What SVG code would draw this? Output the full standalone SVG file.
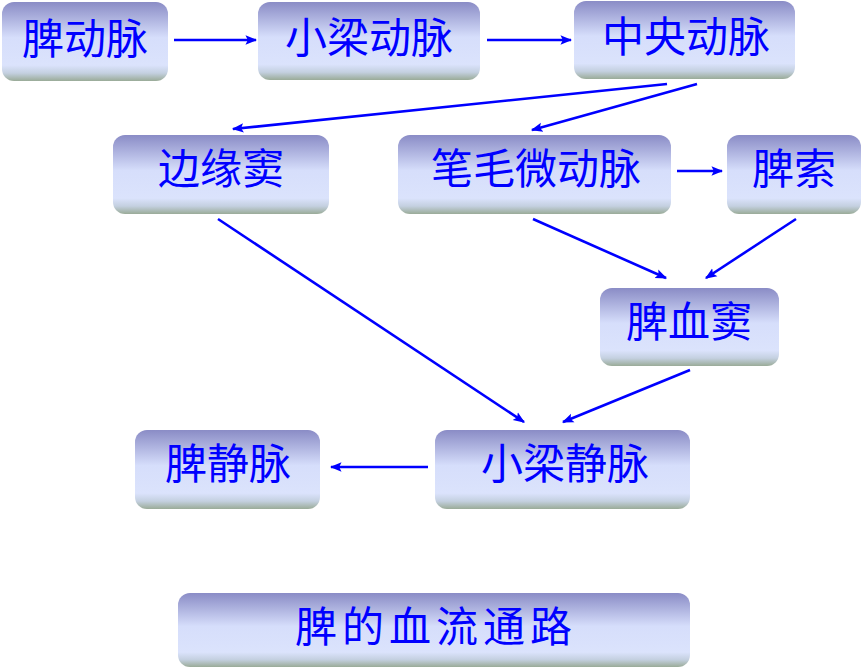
<svg xmlns="http://www.w3.org/2000/svg" width="863" height="668" viewBox="0 0 863 668">
<defs>
<linearGradient id="g" x1="0" y1="0" x2="0" y2="1">
<stop offset="0" stop-color="#8a8cc6"/>
<stop offset="0.45" stop-color="#d6defb"/>
<stop offset="0.8" stop-color="#dbe3fc"/>
<stop offset="0.9" stop-color="#c4d0e0"/>
<stop offset="1" stop-color="#9aab98"/>
</linearGradient>
<marker id="ah" viewBox="0 0 10 10" refX="9" refY="5" markerWidth="4.5" markerHeight="4.5" orient="auto" markerUnits="strokeWidth">
<path d="M0,1 L10,5 L0,9 L2,5 Z" fill="#0000ff"/>
</marker>
</defs>
<style>
.box{fill:url(#g);}
.t{font-family:"Noto Sans CJK SC","Noto Sans CJK JP",sans-serif;font-size:42px;fill:#0000ff;text-anchor:middle;dominant-baseline:central;}
.c line{stroke:#0000ff;stroke-width:2.6;marker-end:url(#ah);}
</style>
<rect width="863" height="668" fill="#ffffff"/>
<g id="n1"><rect class="box" x="2" y="2" width="166" height="79" rx="12"/><text class="t" x="85" y="35">脾动脉</text></g>
<g id="n2"><rect class="box" x="258" y="2" width="222" height="78" rx="12"/><text class="t" x="369" y="34">小梁动脉</text></g>
<g id="n3"><rect class="box" x="574" y="1" width="221" height="78" rx="12"/><text class="t" x="686" y="33">中央动脉</text></g>
<g id="n4"><rect class="box" x="113" y="135" width="216" height="79" rx="12"/><text class="t" x="221" y="165">边缘窦</text></g>
<g id="n5"><rect class="box" x="398" y="135" width="273" height="79" rx="12"/><text class="t" x="536" y="165">笔毛微动脉</text></g>
<g id="n6"><rect class="box" x="727" y="135" width="134" height="79" rx="12"/><text class="t" x="794" y="165">脾索</text></g>
<g id="n7"><rect class="box" x="600" y="288" width="179" height="78" rx="12"/><text class="t" x="689" y="318">脾血窦</text></g>
<g id="n8"><rect class="box" x="135" y="430" width="185" height="79" rx="12"/><text class="t" x="228" y="460">脾静脉</text></g>
<g id="n9"><rect class="box" x="435" y="430" width="255" height="79" rx="12"/><text class="t" x="565" y="460">小梁静脉</text></g>
<g id="n10"><rect class="box" x="178" y="593" width="512" height="74" rx="12"/><text class="t" x="436" y="623" letter-spacing="5">脾的血流通路</text></g>
<g class="c" id="connectors">
<line x1="174" y1="40" x2="256" y2="40"/>
<line x1="487" y1="40" x2="571" y2="40"/>
<line x1="667" y1="84" x2="233" y2="129"/>
<line x1="697" y1="84" x2="532" y2="130"/>
<line x1="677" y1="171" x2="722" y2="171"/>
<line x1="533" y1="219" x2="666" y2="278"/>
<line x1="796" y1="219" x2="706" y2="278"/>
<line x1="218" y1="219" x2="524" y2="422"/>
<line x1="690" y1="370" x2="563" y2="422"/>
<line x1="428" y1="467" x2="331" y2="467"/>
</g>
</svg>
